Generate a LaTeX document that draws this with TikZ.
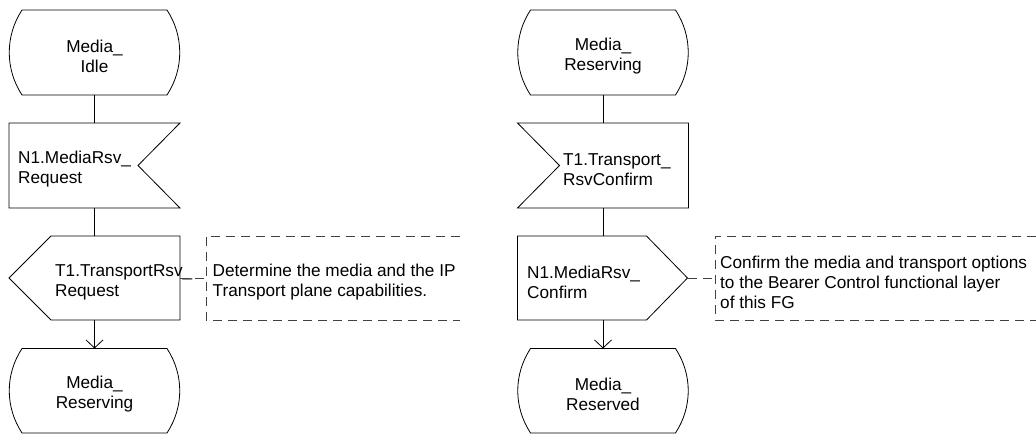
\documentclass[tikz,border=0pt]{standalone}
\usepackage{fontspec}
\setmainfont{Liberation Sans}
\usetikzlibrary{arrows.meta}
\newcommand\drawstate[1]{%
  \draw[ln] ([xshift=13pt]#1.north west) -- ([xshift=-13pt]#1.north east)
    .. controls +(17,-26) and +(17,26) .. ([xshift=-13pt]#1.south east)
    -- ([xshift=13pt]#1.south west)
    .. controls +(-17,26) and +(-17,-26) .. ([xshift=13pt]#1.north west) -- cycle;}
\begin{document}
\begin{tikzpicture}[x=1pt,y=1pt,
  shp/.style={draw=none, minimum width=171pt, minimum height=85pt, inner sep=0pt, outer sep=0pt},
  txt/.style={font=\fontsize{17.2}{20}\selectfont, align=left, inner sep=0pt, text=black},
  ctxt/.style={txt, align=center},
  ln/.style={line width=0.8pt, draw=black},
  cmt/.style={line width=0.8pt, draw=black!75, dash pattern=on 9pt off 6pt},
  arr/.style={ln, -{Straight Barb[length=8pt,width=17pt,line width=0.8pt]}}
]
\useasboundingbox (0,0) rectangle (1036,434);

% left column
\node[shp] (s1) at (94.5,381.5) {};
\node[shp] (i1) at (94.5,268.5) {};
\node[shp, minimum height=84pt] (o1) at (94.5,156) {};
\node[shp, minimum height=84.5pt] (s2) at (94.5,43.25) {};
% right column
\node[shp] (s3) at (603,381.5) {};
\node[shp] (i2) at (603,268.5) {};
\node[shp, minimum height=84pt] (o2) at (603,156) {};
\node[shp, minimum height=84.5pt] (s4) at (603,43.25) {};
% comment frames
\node[shp, minimum width=254pt, minimum height=84pt] (cf1) at (333,156) {};
\node[shp, minimum width=321pt, minimum height=84pt] (cf2) at (875.5,156) {};

% outlines
\drawstate{s1}
\drawstate{s2}
\drawstate{s3}
\drawstate{s4}
\draw[ln] (i1.north west) -- (i1.north east) -- ([xshift=-42pt]i1.east) -- (i1.south east) -- (i1.south west) -- cycle;
\draw[ln] (i2.north west) -- (i2.north east) -- (i2.south east) -- (i2.south west) -- ([xshift=42pt]i2.west) -- cycle;
\draw[ln] ([xshift=42pt]o1.north west) -- (o1.north east) -- (o1.south east) -- ([xshift=42pt]o1.south west) -- (o1.west) -- cycle;
\draw[ln] (o2.north west) -- ([xshift=-42pt]o2.north east) -- ([xshift=-1pt]o2.east) -- ([xshift=-42pt]o2.south east) -- (o2.south west) -- cycle;
\draw[cmt] (cf1.north east) -- (cf1.north west) -- (cf1.south west) -- (cf1.south east);
\draw[cmt] (cf2.north east) -- (cf2.north west) -- (cf2.south west) -- (cf2.south east);

% texts
\node[ctxt] (s1t) at ([yshift=-3.5pt]s1.center) {Media\_\\Idle};
\node[txt, anchor=west] (i1t) at ([xshift=9pt,yshift=-4pt]i1.west) {N1.MediaRsv\_\\Request};
\node[txt, anchor=west] (o1t) at ([xshift=46pt,yshift=-4pt]o1.west) {T1.TransportRsv\_\\Request};
\node[ctxt] (s2t) at ([yshift=-3.5pt]s2.center) {Media\_\\Reserving};
\node[ctxt] (s3t) at ([yshift=-3.5pt]s3.center) {Media\_\\Reserving};
\node[txt, anchor=west] (i2t) at ([xshift=45.5pt,yshift=-4pt]i2.west) {T1.Transport\_\\RsvConfirm};
\node[txt, anchor=west] (o2t) at ([xshift=9.5pt,yshift=-4pt]o2.west) {N1.MediaRsv\_\\Confirm};
\node[ctxt] (s4t) at ([yshift=-3.5pt]s4.center) {Media\_\\Reserved};
\node[txt, anchor=west] (c1) at ([xshift=6.5pt,yshift=-4pt]cf1.west) {Determine the media and the IP\\Transport plane capabilities.};
\node[txt, anchor=west] (c2) at ([xshift=5pt,yshift=-4pt]cf2.west) {Confirm the media and transport options\\to the Bearer Control functional layer\\of this FG};

% connectors
\draw[ln] (s1.south) -- (i1.north);
\draw[ln] (i1.south) -- (o1.north);
\draw[arr] (o1.south) -- (s2.north);
\draw[ln] (s3.south) -- (i2.north);
\draw[ln] (i2.south) -- (o2.north);
\draw[arr] (o2.south) -- (s4.north);
\draw[cmt] (o1.east) -- (cf1.west);
\draw[cmt] ([xshift=-1pt]o2.east) -- (cf2.west);
\end{tikzpicture}
\end{document}
